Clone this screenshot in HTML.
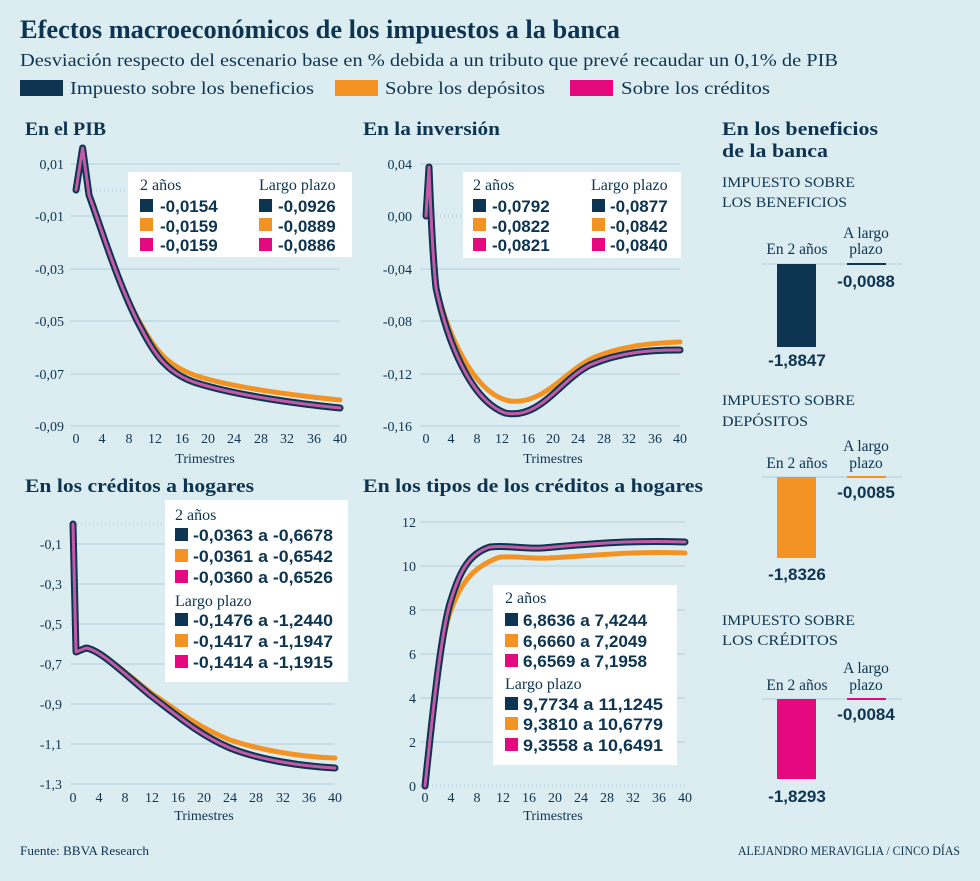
<!DOCTYPE html>
<html><head><meta charset="utf-8"><style>
html,body{margin:0;padding:0;background:#dcedf2;}
svg{display:block;}
.s{font-family:"Liberation Serif",serif;fill:#0d3450;}
.n{font-family:"Liberation Sans",sans-serif;font-weight:bold;fill:#0d3450;font-size:17px;}
.t{font-family:"Liberation Serif",serif;fill:#0d3450;font-size:14px;}
.g{stroke:#b3cfd9;stroke-width:1;}
.nv{fill:none;stroke:#0d3450;stroke-width:7;stroke-linejoin:round;stroke-linecap:round;}
.pk{fill:none;stroke:#c45aa6;stroke-width:3;stroke-linejoin:round;stroke-linecap:round;}
.or{fill:none;stroke:#f39323;stroke-width:5;stroke-linejoin:round;stroke-linecap:round;}
</style></head><body>
<svg width="980" height="881" viewBox="0 0 980 881" xmlns="http://www.w3.org/2000/svg">
<rect width="980" height="881" fill="#dcedf2"/>
<text x="20" y="38" class="s" font-size="26" font-weight="bold" textLength="600" lengthAdjust="spacingAndGlyphs">Efectos macroeconómicos de los impuestos a la banca</text>
<text x="20" y="66" class="s" font-size="17.5" textLength="818" lengthAdjust="spacingAndGlyphs">Desviación respecto del escenario base en % debida a un tributo que prevé recaudar un 0,1% de PIB</text>
<rect x="20" y="80" width="43" height="16" fill="#0d3450"/><text x="70" y="94" class="s" font-size="17.5" textLength="244" lengthAdjust="spacingAndGlyphs">Impuesto sobre los beneficios</text>
<rect x="335" y="80" width="43" height="16" fill="#f39323"/><text x="385" y="94" class="s" font-size="17.5" textLength="160" lengthAdjust="spacingAndGlyphs">Sobre los depósitos</text>
<rect x="570" y="80" width="43" height="16" fill="#e5097f"/><text x="621" y="94" class="s" font-size="17.5" textLength="149" lengthAdjust="spacingAndGlyphs">Sobre los créditos</text>

<g class="s" font-size="19" font-weight="bold">
<text x="25" y="135" textLength="81" lengthAdjust="spacingAndGlyphs">En el PIB</text>
<text x="363" y="135" textLength="137" lengthAdjust="spacingAndGlyphs">En la inversión</text>
<text x="722" y="135" textLength="156" lengthAdjust="spacingAndGlyphs">En los beneficios</text>
<text x="722" y="157" textLength="106" lengthAdjust="spacingAndGlyphs">de la banca</text>
<text x="25" y="492" textLength="229" lengthAdjust="spacingAndGlyphs">En los créditos a hogares</text>
<text x="363" y="492" textLength="340" lengthAdjust="spacingAndGlyphs">En los tipos de los créditos a hogares</text>
</g>

<!-- Chart 1 -->
<g class="g">
<line x1="70" y1="164" x2="340" y2="164"/><line x1="70" y1="216" x2="340" y2="216"/><line x1="70" y1="269" x2="340" y2="269"/><line x1="70" y1="321" x2="340" y2="321"/><line x1="70" y1="374" x2="340" y2="374"/><line x1="70" y1="426" x2="340" y2="426"/>
<line x1="76" y1="190" x2="340" y2="190" stroke-dasharray="1,3" stroke-width="4" stroke="#c6dde5"/>
</g>
<g class="t" text-anchor="end"><text x="64" y="169">0,01</text><text x="64" y="221">-0,01</text><text x="64" y="274">-0,03</text><text x="64" y="326">-0,05</text><text x="64" y="379">-0,07</text><text x="64" y="431">-0,09</text></g>
<g class="t" text-anchor="middle"><text x="76" y="443">0</text><text x="102" y="443">4</text><text x="129" y="443">8</text><text x="155" y="443">12</text><text x="182" y="443">16</text><text x="208" y="443">20</text><text x="234" y="443">24</text><text x="261" y="443">28</text><text x="287" y="443">32</text><text x="314" y="443">36</text><text x="340" y="443">40</text><text x="205" y="463">Trimestres</text></g>
<path class="or" d="M76,190 L82.6,148 L89,195 C100,225 120,290 142,326 C155,350 168,367 200,377 C240,389 300,396 340,400"/>
<path class="nv" d="M76,190 L82.6,148 L89,195 C100,225 120,290 142,330 C155,355 168,375 200,384 C240,396 300,404 340,408"/>
<path class="pk" d="M76,190 L82.6,148 L89,195 C100,225 120,290 142,330 C155,355 168,375 200,384 C240,396 300,404 340,408"/>
<rect x="128" y="172" width="224" height="85" fill="#fff"/>
<text x="140" y="190" class="s" font-size="16">2 años</text><text x="259" y="190" class="s" font-size="16">Largo plazo</text>
<rect x="140" y="199" width="13" height="13" fill="#0d3450"/><text x="160" y="212" class="n">-0,0154</text>
<rect x="140" y="218" width="13" height="13" fill="#f39323"/><text x="160" y="232" class="n">-0,0159</text>
<rect x="140" y="238" width="13" height="13" fill="#e5097f"/><text x="160" y="251" class="n">-0,0159</text>
<rect x="259" y="199" width="13" height="13" fill="#0d3450"/><text x="278" y="212" class="n">-0,0926</text>
<rect x="259" y="218" width="13" height="13" fill="#f39323"/><text x="278" y="232" class="n">-0,0889</text>
<rect x="259" y="238" width="13" height="13" fill="#e5097f"/><text x="278" y="251" class="n">-0,0886</text>

<!-- Chart 2 -->
<g class="g">
<line x1="420" y1="164" x2="680" y2="164"/><line x1="420" y1="269" x2="680" y2="269"/><line x1="420" y1="321" x2="680" y2="321"/><line x1="420" y1="374" x2="680" y2="374"/><line x1="420" y1="426" x2="680" y2="426"/>
<line x1="420" y1="216" x2="680" y2="216" stroke-dasharray="1,3" stroke-width="4" stroke="#c6dde5"/>
</g>
<g class="t" text-anchor="end"><text x="412" y="169">0,04</text><text x="412" y="221">0,00</text><text x="412" y="274">-0,04</text><text x="412" y="326">-0,08</text><text x="412" y="379">-0,12</text><text x="412" y="431">-0,16</text></g>
<g class="t" text-anchor="middle"><text x="426" y="443">0</text><text x="451" y="443">4</text><text x="477" y="443">8</text><text x="502" y="443">12</text><text x="528" y="443">16</text><text x="553" y="443">20</text><text x="578" y="443">24</text><text x="604" y="443">28</text><text x="629" y="443">32</text><text x="655" y="443">36</text><text x="680" y="443">40</text><text x="553" y="463">Trimestres</text></g>
<path class="or" d="M426,216 L429,167 C431,220 433,260 436,285 C447,335 475,395 510,401 C545,405 565,370 595,357 C625,345 655,343 680,342"/>
<path class="nv" d="M426,216 L429,167 C431,220 433,260 436,288 C447,340 470,400 505,413 C540,420 560,380 590,365 C620,352 650,350 680,350"/>
<path class="pk" d="M426,216 L429,167 C431,220 433,260 436,288 C447,340 470,400 505,413 C540,420 560,380 590,365 C620,352 650,350 680,350"/>
<rect x="463" y="172" width="218" height="86" fill="#fff"/>
<text x="473" y="190" class="s" font-size="16">2 años</text><text x="591" y="190" class="s" font-size="16">Largo plazo</text>
<rect x="473" y="199" width="13" height="13" fill="#0d3450"/><text x="492" y="212" class="n">-0,0792</text>
<rect x="473" y="218" width="13" height="13" fill="#f39323"/><text x="492" y="232" class="n">-0,0822</text>
<rect x="473" y="238" width="13" height="13" fill="#e5097f"/><text x="492" y="251" class="n">-0,0821</text>
<rect x="592" y="199" width="13" height="13" fill="#0d3450"/><text x="610" y="212" class="n">-0,0877</text>
<rect x="592" y="218" width="13" height="13" fill="#f39323"/><text x="610" y="232" class="n">-0,0842</text>
<rect x="592" y="238" width="13" height="13" fill="#e5097f"/><text x="610" y="251" class="n">-0,0840</text>

<!-- Chart 3 -->
<g class="g">
<line x1="70" y1="544" x2="335" y2="544"/><line x1="70" y1="584" x2="335" y2="584"/><line x1="70" y1="624" x2="335" y2="624"/><line x1="70" y1="664" x2="335" y2="664"/><line x1="70" y1="704" x2="335" y2="704"/><line x1="70" y1="744" x2="335" y2="744"/><line x1="70" y1="784" x2="335" y2="784"/>
<line x1="73" y1="524" x2="335" y2="524" stroke-dasharray="1,3" stroke-width="4" stroke="#c6dde5"/>
</g>
<g class="t" text-anchor="end"><text x="62" y="549">-0,1</text><text x="62" y="589">-0,3</text><text x="62" y="629">-0,5</text><text x="62" y="669">-0,7</text><text x="62" y="709">-0,9</text><text x="62" y="749">-1,1</text><text x="62" y="789">-1,3</text></g>
<g class="t" text-anchor="middle"><text x="73" y="802">0</text><text x="99" y="802">4</text><text x="125" y="802">8</text><text x="152" y="802">12</text><text x="178" y="802">16</text><text x="204" y="802">20</text><text x="230" y="802">24</text><text x="256" y="802">28</text><text x="283" y="802">32</text><text x="309" y="802">36</text><text x="335" y="802">40</text><text x="204" y="820">Trimestres</text></g>
<path class="or" d="M73,524 L76,652 L86,648 C100,650 120,668 150,692 C180,713 200,728 230,740 C260,750 300,757 335,758"/>
<path class="nv" d="M73,524 L76,652 L86,648 C100,650 120,670 150,695 C180,718 200,735 230,748 C260,760 300,766 335,768"/>
<path class="pk" d="M73,524 L76,652 L86,648 C100,650 120,670 150,695 C180,718 200,735 230,748 C260,760 300,766 335,768"/>
<rect x="165" y="500" width="183" height="182" fill="#fff"/>
<text x="175" y="520" class="s" font-size="16">2 años</text>
<rect x="175" y="528" width="13" height="13" fill="#0d3450"/><text x="193" y="541" class="n" textLength="140" lengthAdjust="spacingAndGlyphs">-0,0363 a -0,6678</text>
<rect x="175" y="549" width="13" height="13" fill="#f39323"/><text x="193" y="562" class="n" textLength="140" lengthAdjust="spacingAndGlyphs">-0,0361 a -0,6542</text>
<rect x="175" y="570" width="13" height="13" fill="#e5097f"/><text x="193" y="583" class="n" textLength="140" lengthAdjust="spacingAndGlyphs">-0,0360 a -0,6526</text>
<text x="175" y="606" class="s" font-size="16">Largo plazo</text>
<rect x="175" y="613" width="13" height="13" fill="#0d3450"/><text x="193" y="626" class="n" textLength="140" lengthAdjust="spacingAndGlyphs">-0,1476 a -1,2440</text>
<rect x="175" y="634" width="13" height="13" fill="#f39323"/><text x="193" y="647" class="n" textLength="140" lengthAdjust="spacingAndGlyphs">-0,1417 a -1,1947</text>
<rect x="175" y="655" width="13" height="13" fill="#e5097f"/><text x="193" y="668" class="n" textLength="140" lengthAdjust="spacingAndGlyphs">-0,1414 a -1,1915</text>

<!-- Chart 4 -->
<g class="g">
<line x1="420" y1="522" x2="685" y2="522"/><line x1="420" y1="566" x2="685" y2="566"/><line x1="420" y1="610" x2="685" y2="610"/><line x1="420" y1="654" x2="685" y2="654"/><line x1="420" y1="698" x2="685" y2="698"/><line x1="420" y1="742" x2="685" y2="742"/>
<line x1="420" y1="786" x2="685" y2="786" stroke-dasharray="1,3" stroke-width="4" stroke="#c6dde5"/>
</g>
<g class="t" text-anchor="end"><text x="416" y="527">12</text><text x="416" y="571">10</text><text x="416" y="615">8</text><text x="416" y="659">6</text><text x="416" y="703">4</text><text x="416" y="747">2</text><text x="416" y="791">0</text></g>
<g class="t" text-anchor="middle"><text x="425" y="802">0</text><text x="451" y="802">4</text><text x="477" y="802">8</text><text x="503" y="802">12</text><text x="529" y="802">16</text><text x="555" y="802">20</text><text x="581" y="802">24</text><text x="607" y="802">28</text><text x="633" y="802">32</text><text x="659" y="802">36</text><text x="685" y="802">40</text><text x="553" y="820">Trimestres</text></g>
<path class="or" d="M425,786 C432,720 441,635 451,610 C462,580 475,566 500,557 C520,556 530,559 550,558 C590,556 630,551 685,553"/>
<path class="nv" d="M425,786 C432,720 441,630 451,600 C460,570 470,553 490,547 C510,545 520,549 542,548 C580,545 620,540 685,542"/>
<path class="pk" d="M425,786 C432,720 441,630 451,600 C460,570 470,553 490,547 C510,545 520,549 542,548 C580,545 620,540 685,542"/>
<rect x="493" y="585" width="184" height="180" fill="#fff"/>
<text x="505" y="603" class="s" font-size="16">2 años</text>
<rect x="505" y="613" width="13" height="13" fill="#0d3450"/><text x="523" y="626" class="n" textLength="124" lengthAdjust="spacingAndGlyphs">6,8636 a 7,4244</text>
<rect x="505" y="634" width="13" height="13" fill="#f39323"/><text x="523" y="647" class="n" textLength="124" lengthAdjust="spacingAndGlyphs">6,6660 a 7,2049</text>
<rect x="505" y="654" width="13" height="13" fill="#e5097f"/><text x="523" y="667" class="n" textLength="124" lengthAdjust="spacingAndGlyphs">6,6569 a 7,1958</text>
<text x="505" y="689" class="s" font-size="16">Largo plazo</text>
<rect x="505" y="697" width="13" height="13" fill="#0d3450"/><text x="523" y="710" class="n" textLength="140" lengthAdjust="spacingAndGlyphs">9,7734 a 11,1245</text>
<rect x="505" y="717" width="13" height="13" fill="#f39323"/><text x="523" y="730" class="n" textLength="140" lengthAdjust="spacingAndGlyphs">9,3810 a 10,6779</text>
<rect x="505" y="738" width="13" height="13" fill="#e5097f"/><text x="523" y="751" class="n" textLength="140" lengthAdjust="spacingAndGlyphs">9,3558 a 10,6491</text>

<!-- Bars -->
<g class="s" font-size="15">
<text x="722" y="187" textLength="133" lengthAdjust="spacingAndGlyphs">IMPUESTO SOBRE</text><text x="722" y="207" textLength="125" lengthAdjust="spacingAndGlyphs">LOS BENEFICIOS</text>
<text x="722" y="405" textLength="133" lengthAdjust="spacingAndGlyphs">IMPUESTO SOBRE</text><text x="722" y="426" textLength="86" lengthAdjust="spacingAndGlyphs">DEPÓSITOS</text>
<text x="722" y="625" textLength="133" lengthAdjust="spacingAndGlyphs">IMPUESTO SOBRE</text><text x="722" y="645" textLength="116" lengthAdjust="spacingAndGlyphs">LOS CRÉDITOS</text>
</g>
<g class="s" font-size="15.5" text-anchor="middle">
<text x="797" y="254">En 2 años</text><text x="866" y="238">A largo</text><text x="866" y="254">plazo</text>
<text x="797" y="468">En 2 años</text><text x="866" y="451">A largo</text><text x="866" y="468">plazo</text>
<text x="797" y="690">En 2 años</text><text x="866" y="673">A largo</text><text x="866" y="690">plazo</text>
</g>
<line x1="762" y1="264" x2="902" y2="264" class="g"/>
<rect x="777" y="264" width="39" height="83" fill="#0d3450"/><rect x="847" y="263" width="39" height="2" fill="#0d3450"/>
<line x1="762" y1="477" x2="902" y2="477" class="g"/>
<rect x="777" y="477" width="39" height="81" fill="#f39323"/><rect x="847" y="476" width="39" height="2" fill="#f39323"/>
<line x1="762" y1="699" x2="902" y2="699" class="g"/>
<rect x="777" y="699" width="39" height="80" fill="#e5097f"/><rect x="847" y="698" width="39" height="2" fill="#e5097f"/>
<g class="n" text-anchor="middle">
<text x="866" y="287">-0,0088</text><text x="797" y="366">-1,8847</text>
<text x="866" y="498">-0,0085</text><text x="797" y="580">-1,8326</text>
<text x="866" y="720">-0,0084</text><text x="797" y="802">-1,8293</text>
</g>

<text x="20" y="855" class="s" font-size="12.5" textLength="129" lengthAdjust="spacingAndGlyphs">Fuente: BBVA Research</text>
<text x="738" y="855" class="s" font-size="12.5" textLength="222" lengthAdjust="spacingAndGlyphs">ALEJANDRO MERAVIGLIA / CINCO DÍAS</text>
</svg>
</body></html>
